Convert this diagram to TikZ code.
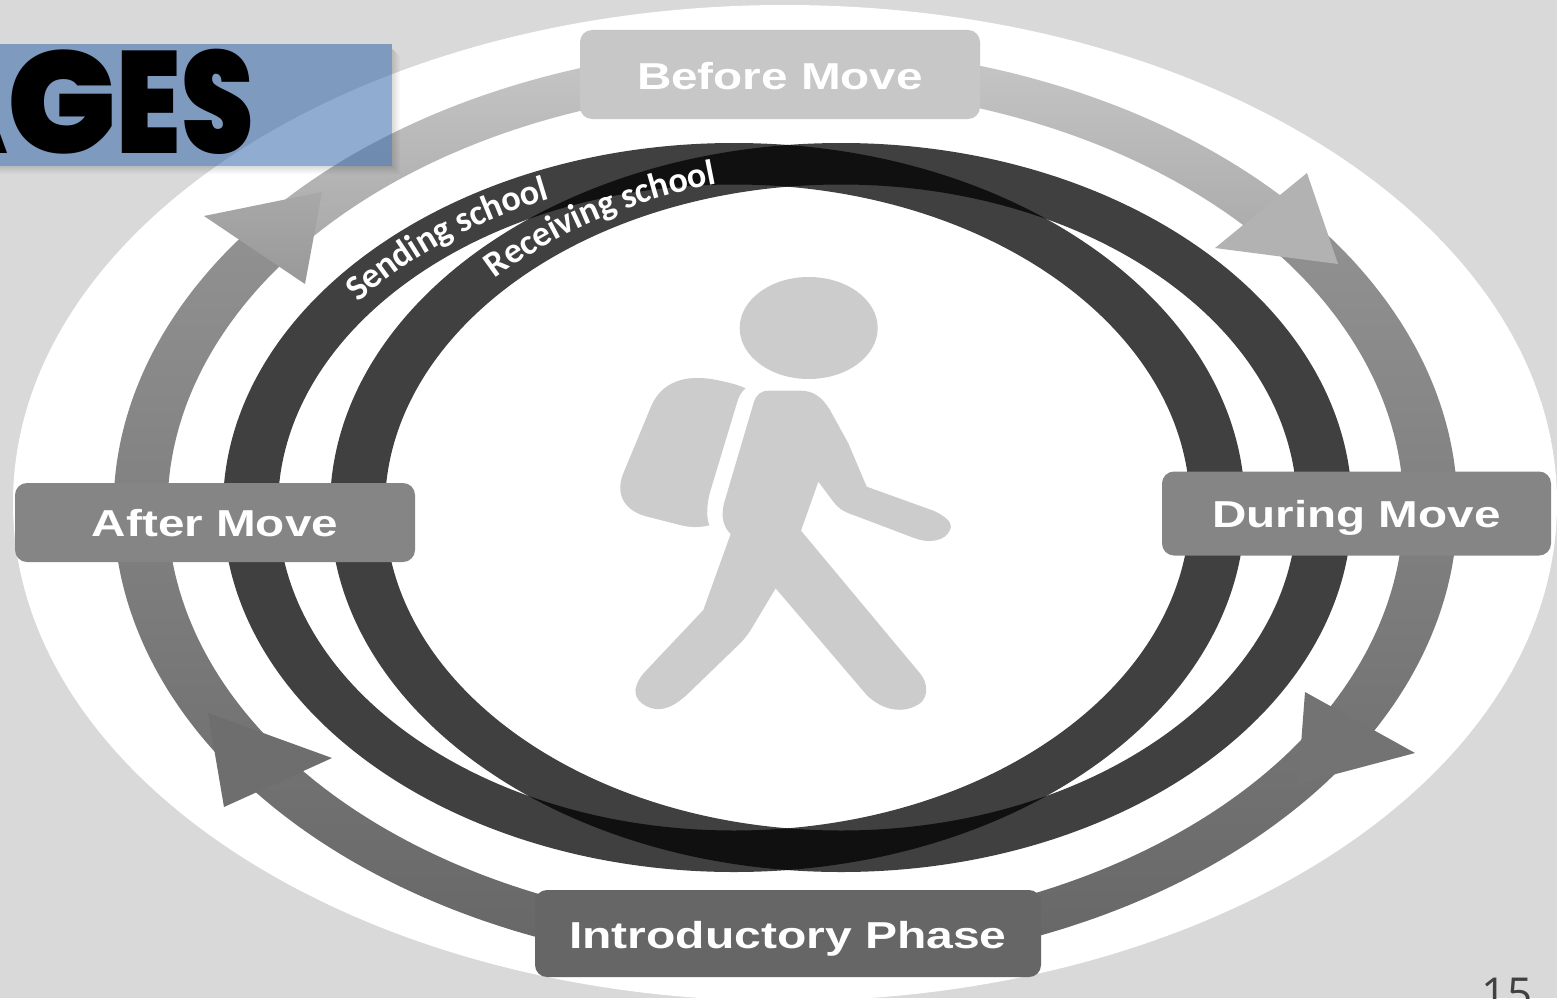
\documentclass[tikz,border=0pt]{standalone}
\usepackage{fontspec}
\setmainfont{Liberation Sans}
\newfontfamily\titlefont{Poppins Black}
\newfontfamily\ringfont{Carlito}[Scale=1]
\newfontfamily\pagefont{Open Sans}
\usetikzlibrary{decorations.text}
\definecolor{pagebg}{HTML}{D9D9D9}
\definecolor{fig}{HTML}{CCCCCC}
\definecolor{titleblue}{RGB}{53,104,171}
\tikzset{
  stagebox/.style={rectangle,rounded corners=12pt,inner sep=0pt,text=white,text depth=0pt,font=\bfseries\fontsize{37.5}{38}\selectfont},
  darkring/.style={fill=black,fill opacity=0.75,even odd rule},
  arrowhd/.style={draw=none},
  ringlabel/.style={decorate,decoration={text along path,text align=left,raise=-9pt}}
}
% band segment of the arrow ring between two parameter angles
\newcommand{\bandpath}[2]{
  plot[domain=#1:#2,samples=90,smooth] ({785.5+672*cos(\x)},{508+462*sin(\x)})
  -- plot[domain=#2:#1,samples=90,smooth] ({785.5+618*cos(\x)},{508+421*sin(\x)}) -- cycle}
\begin{document}
\begin{tikzpicture}[x=1pt,y=-1pt]
\useasboundingbox (0,0) rectangle (1557,998);
\fill[pagebg] (0,0) rectangle (1557,998);
\fill[white] (785,503) ellipse [x radius=772pt,y radius=498pt];

% arrow ring
\shade[top color=black!22,bottom color=black!34] \bandpath{217}{322};
\shade[top color=black!43,bottom color=black!60] \bandpath{-38}{217};

% the two school rings
\path[darkring] (734,507.5) ellipse [x radius=511pt,y radius=364.5pt]
                (734,507.5) ellipse [x radius=456pt,y radius=323pt];
\path[darkring] (841,507.5) ellipse [x radius=511pt,y radius=364.5pt]
                (841,507.5) ellipse [x radius=456pt,y radius=323pt];

% arrowheads
\fill[arrowhd,fill=black!30] (1307,173) -- (1215,248) -- (1338,264) -- cycle;
\fill[arrowhd,fill=black!55] (1305,692) -- (1415,753) -- (1298,784) -- cycle;
\fill[arrowhd,fill=black!57] (208,713) -- (332,758) -- (224,807) -- cycle;
\shade[arrowhd,top color=black!34,bottom color=black!40] (204,216) -- (322,192) -- (305,284) -- cycle;

% ring labels
\path[ringlabel,decoration={text={|\ringfont\bfseries\fontsize{36}{36}\selectfont\color{white}|Sending school}}]
  ({734+483.5*cos(142.1)},{507.5-344*sin(142.1)}) arc[start angle=142.1,end angle=60,x radius=483.5pt,y radius=344pt];
\path[ringlabel,decoration={text={|\ringfont\bfseries\fontsize{36}{36}\selectfont\color{white}|Receiving school}}]
  ({841+483.5*cos(136.6)},{507.5-344*sin(136.6)}) arc[start angle=136.6,end angle=55,x radius=483.5pt,y radius=344pt];

% walking figure
\fill[fig] (808.7,328) ellipse [x radius=69pt,y radius=51pt];
\begin{scope}[shift={(600,260)},x=0.33333pt,y=-0.33333pt]
\fill[fig] (437,385) .. controls (415,375) and (390,368) .. (350,360)
  .. controls (250,340) and (185,370) .. (155,435) -- (70,640)
  .. controls (45,700) and (70,755) .. (150,772) -- (240,795)
  .. controls (270,803) and (300,803) .. (328,796)
  .. controls (318,770) and (320,730) .. (332,690) -- (412,425)
  .. controls (418,405) and (425,395) .. (437,385) -- cycle;
\fill[fig] (505,392) -- (600,392) .. controls (640,392) and (665,410) .. (690,450)
  -- (745,550) -- (800,680) -- (1000,752)
  .. controls (1040,770) and (1060,790) .. (1050,810)
  .. controls (1035,845) and (985,850) .. (945,835) -- (760,765)
  .. controls (730,755) and (715,745) .. (700,725) -- (655,665) -- (603,812)
  -- (960,1240) .. controls (985,1270) and (985,1310) .. (960,1330)
  .. controls (910,1365) and (845,1350) .. (800,1305) -- (527,985) -- (455,1105)
  .. controls (440,1130) and (430,1140) .. (415,1155) -- (260,1305)
  .. controls (225,1335) and (200,1350) .. (165,1347)
  .. controls (125,1340) and (95,1310) .. (110,1275)
  .. controls (115,1260) and (125,1245) .. (140,1230) -- (310,1050) -- (392,822)
  .. controls (370,800) and (362,770) .. (372,730) -- (462,425)
  .. controls (470,402) and (485,392) .. (505,392) -- cycle;
\end{scope}

% stage boxes
\node[stagebox,text height=30pt,fill=black!22,minimum width=400pt,minimum height=89pt] (before) at (780,74.5)
  {\scalebox{1.27}[1]{Before Move}};
\node[stagebox,text height=28pt,fill=black!48,minimum width=389pt,minimum height=84pt] (during) at (1356.5,513.5)
  {\scalebox{1.27}[1]{During Move}};
\node[stagebox,text height=28pt,fill=black!48,minimum width=400pt,minimum height=79pt] (after) at (215,522.5)
  {\scalebox{1.27}[1]{After Move}};
\node[stagebox,text height=30pt,fill=black!60,minimum width=506pt,minimum height=87pt] (intro) at (788,933.5)
  {\scalebox{1.28}[1]{Introductory Phase}};

% title banner
\foreach \i in {1,...,8}{
  \pgfmathsetmacro{\op}{0.16*(1-\i/9)}
  \draw[black,opacity=\op,line width=1pt] ({391.5+\i},{48+\i}) -- ({391.5+\i},{165.5+\i}) -- (0,{165.5+\i});
}
\fill[titleblue,opacity=0.55] (0,44) rectangle (392,166);
\node[anchor=base east,inner sep=0pt,text=black] (title) at (254,153)
  {\titlefont\fontsize{145}{145}\selectfont AG\scalebox{0.8}[1]{ES}};

% page number
\node[anchor=base,inner sep=0pt,text=black!75] (pagenum) at (1507,1009)
  {\pagefont\fontsize{44}{44}\selectfont 15};
\end{tikzpicture}
\end{document}
